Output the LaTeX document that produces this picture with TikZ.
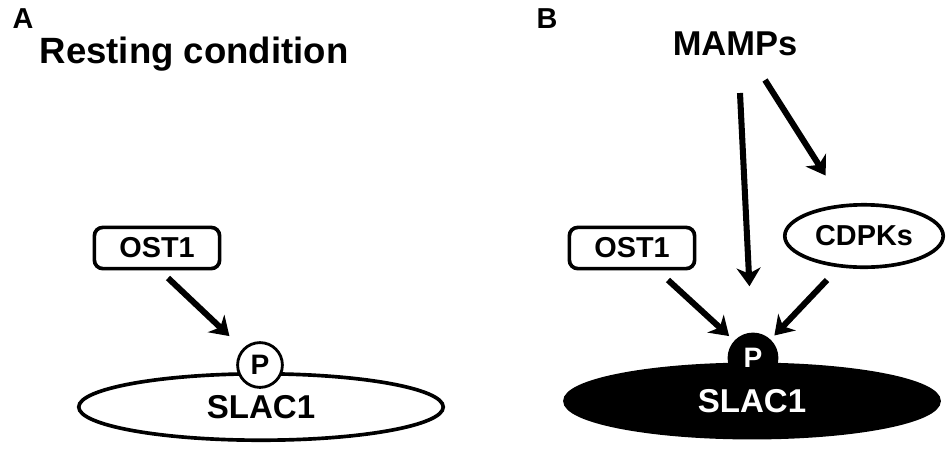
\documentclass[tikz,border=0pt]{standalone}
\usepackage{fontspec}
\setmainfont{Liberation Sans}
\usetikzlibrary{shapes.geometric}
\usetikzlibrary{arrows.meta}

\tikzset{
  arr/.style={-{Stealth[length=13pt,width=17pt,inset=4pt]},line width=4.3pt},
  lbl/.style={font=\bfseries\fontsize{20.5}{24}\selectfont,anchor=base},
  ttl/.style={font=\bfseries\fontsize{26}{30}\selectfont,anchor=base},
  kinase/.style={draw,line width=2.6pt,rounded corners=6pt,minimum width=3.13cm,minimum height=1.03cm,inner sep=0pt,font=\bfseries\fontsize{20.5}{24}\selectfont},
  channel/.style={ellipse,draw,line width=2.6pt,inner sep=0pt,font=\bfseries\fontsize{23.5}{28}\selectfont},
  phos/.style={circle,draw,line width=2pt,fill=white,inner sep=0pt,minimum size=1.12cm,font=\bfseries\fontsize{20}{24}\selectfont}
}

\begin{document}
\begin{tikzpicture}[x=0.025cm,y=-0.025cm]
    \useasboundingbox (0,0) rectangle (950,450);
    % panel A
    \node[lbl] (labA) at (23,28) {A};
    \node[ttl] (rest) at (194,63) {Resting condition};
    \node[kinase] (ostA) at (157,248) {OST1};
    \node[channel,minimum width=9.11cm,minimum height=1.66cm] (slacA) at (261,407) {SLAC1};
    \node[phos] (pA) at (260,365) {P};
    \coordinate (ostAtail) at (168,278);
    \draw[arr,shorten >=13pt] (ostAtail) -- (pA);
    % panel B
    \node[lbl] (labB) at (547,28) {B};
    \node[ttl,font=\bfseries\fontsize{24.5}{28}\selectfont] (mamps) at (735,55) {MAMPs};
    \node[kinase] (ostB) at (632,248) {OST1};
    \node[channel,font=\bfseries\fontsize{20.5}{24}\selectfont,minimum width=3.96cm,minimum height=1.56cm] (cdpks) at (864,236) {CDPKs};
    \node[channel,fill=black,text=white,minimum width=9.35cm,minimum height=1.83cm] (slacB) at (752,401) {SLAC1};
    \node[phos,fill=black,text=white,minimum size=1.2cm] (pB) at (753,358) {P};
    \coordinate (mampsTail) at (740,93);
    \coordinate (cdpksIn) at (765,80);
    \coordinate (ostBtail) at (668,280);
    \coordinate (cdpksTail) at (827,280);
    \draw[arr,shorten >=33pt] (mampsTail) -- (pB);
    \draw[arr,shorten >=24pt] (cdpksIn) -- (cdpks);
    \draw[arr,shorten >=5pt] (ostBtail) -- (pB);
    \draw[arr,shorten >=4pt] (cdpksTail) -- (pB);
\end{tikzpicture}
\end{document}
